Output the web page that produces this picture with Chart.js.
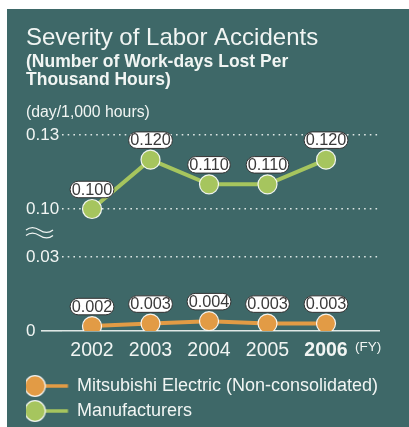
<!DOCTYPE html>
<html>
<head>
<meta charset="utf-8">
<script src="https://cdn.jsdelivr.net/npm/chart.js@4/dist/chart.umd.min.js"></script>
<style>
  html, body { margin: 0; padding: 0; background: #ffffff; }
  #wrap { width: 409px; height: 427px; position: relative; }
</style>
</head>
<body>
<div id="wrap"><canvas id="c" width="409" height="427"></canvas></div>
<script>
// Fiscal years on the x axis
const years = ['2002', '2003', '2004', '2005', '2006'];
// Severity rate (work-days lost per 1,000 hours)
const mitsubishi = [0.002, 0.003, 0.004, 0.003, 0.003];
const manufacturers = [0.100, 0.120, 0.110, 0.110, 0.120];
// Tick values shown on the two halves of the broken y axis
const upperTicks = [0.10, 0.13];
const lowerTicks = [0, 0.03];
const seriesNames = ['Mitsubishi Electric (Non-consolidated)', 'Manufacturers'];

const PANEL = '#3e6868';
const ORANGE = '#e29b45';
const GREEN = '#a6c55e';
const TEXT = '#f1f5f3';
const FONT = '"Liberation Sans", Arial, Helvetica, sans-serif';

Chart.defaults.font.family = FONT;

// legend marker: a dot with a short line running to the right
function legendMarker(color) {
  const cv = document.createElement('canvas');
  cv.width = 54; cv.height = 24;
  const g = cv.getContext('2d');
  g.strokeStyle = color; g.lineWidth = 3.5;
  g.beginPath(); g.moveTo(13, 12); g.lineTo(44.5, 12); g.stroke();
  g.beginPath(); g.arc(11.5, 12, 10.3, 0, Math.PI * 2);
  g.fillStyle = color; g.fill();
  g.strokeStyle = 'rgba(255,255,255,0.9)'; g.lineWidth = 1.2; g.stroke();
  return cv;
}

const panelPlugin = {
  id: 'panel',
  beforeDraw(chart) {
    const ctx = chart.ctx;
    ctx.save();
    ctx.fillStyle = PANEL;
    ctx.fillRect(7, 9, chart.width - 7, chart.height - 9);
    ctx.restore();
  },
  afterDraw(chart) {
    const ctx = chart.ctx;
    ctx.save();
    ctx.fillStyle = TEXT;
    ctx.textBaseline = 'middle';
    // unit caption
    ctx.font = '15.8px ' + FONT;
    ctx.textAlign = 'left';
    ctx.fillText('(day/1,000 hours)', 26, 113);
    // (FY) suffix after the year labels
    ctx.font = '13.5px ' + FONT;
    ctx.fillText('(FY)', 355, 347);
    // axis break mark
    ctx.strokeStyle = TEXT;
    ctx.lineWidth = 1.3;
    [230, 235.5].forEach(y0 => {
      ctx.beginPath();
      ctx.moveTo(26, y0);
      ctx.bezierCurveTo(31, y0 - 4, 35, y0 - 3, 39.5, y0);
      ctx.bezierCurveTo(44, y0 + 3, 48, y0 + 4, 53, y0);
      ctx.stroke();
    });
    ctx.restore();
  }
};

// value tags above each point
const tagPlugin = {
  id: 'tags',
  afterDatasetsDraw(chart) {
    const ctx = chart.ctx;
    ctx.save();
    ctx.font = '16.3px ' + FONT;
    ctx.textAlign = 'center';
    ctx.textBaseline = 'middle';
    chart.data.datasets.forEach((ds, di) => {
      const meta = chart.getDatasetMeta(di);
      meta.data.forEach((pt, i) => {
        const txt = ds.data[i].y.toFixed(3);
        const w = ctx.measureText(txt).width + 3;
        const h = 16.5;
        const cx = pt.x, cy = pt.y - 19.5;
        ctx.beginPath();
        ctx.roundRect(cx - w / 2, cy - h / 2, w, h, 8);
        ctx.fillStyle = '#ffffff';
        ctx.fill();
        ctx.strokeStyle = '#333333';
        ctx.lineWidth = 1;
        ctx.stroke();
        ctx.fillStyle = '#3a3a3a';
        ctx.fillText(txt, cx, cy + 0.8);
      });
    });
    ctx.restore();
  }
};

const dotted = [1.6, 4.1];
function yAxis(min, max, ticksList) {
  return {
    type: 'linear',
    position: 'left',
    stack: 'y',
    stackWeight: 1,
    min: min,
    max: max,
    afterBuildTicks: s => { s.ticks = ticksList.map(v => ({ value: v })); },
    afterFit: s => { s.width = 36; },
    border: {
      display: false,
      dash: ctx => (ctx.tick && ctx.tick.value === 0 ? [] : dotted)
    },
    grid: {
      drawTicks: true,
      tickLength: 21,
      lineWidth: 1.6,
      color: 'rgba(240,245,243,0.9)',
      tickColor: ctx => (ctx.tick && ctx.tick.value === 0 ? 'rgba(240,245,243,0.9)' : 'rgba(0,0,0,0)')
    },
    ticks: {
      color: TEXT,
      font: { size: 17 },
      crossAlign: 'far',
      padding: 0,
      callback: v => (v === 0 ? '0' : v.toFixed(2))
    }
  };
}

new Chart(document.getElementById('c'), {
  type: 'line',
  data: {
    datasets: [
      {
        label: seriesNames[0],
        data: mitsubishi.map((v, i) => ({ x: i, y: v })),
        yAxisID: 'yBot',
        borderColor: ORANGE,
        backgroundColor: ORANGE,
        borderWidth: 4,
        pointRadius: 9.5,
        pointBorderColor: 'rgba(255,255,255,0.9)',
        pointBorderWidth: 1.2,
        tension: 0
      },
      {
        label: seriesNames[1],
        data: manufacturers.map((v, i) => ({ x: i, y: v })),
        yAxisID: 'yTop',
        borderColor: GREEN,
        backgroundColor: GREEN,
        borderWidth: 4,
        pointRadius: 9.5,
        pointBorderColor: 'rgba(255,255,255,0.9)',
        pointBorderWidth: 1.2,
        tension: 0
      }
    ]
  },
  options: {
    responsive: false,
    animation: false,
    devicePixelRatio: 1,
    layout: { padding: { left: 26, right: 29, top: 0, bottom: -3 } },
    plugins: {
      title: {
        display: true,
        text: 'Severity of Labor Accidents',
        align: 'start',
        color: TEXT,
        font: { size: 24, weight: 'normal', lineHeight: 1.2 },
        padding: { top: 24, bottom: 0 }
      },
      subtitle: {
        display: true,
        text: ['(Number of Work-days Lost Per', 'Thousand Hours)'],
        align: 'start',
        color: TEXT,
        font: { size: 17.5, weight: 'bold', lineHeight: '18px' },
        padding: { top: 0, bottom: 46.2 }
      },
      legend: {
        position: 'bottom',
        align: 'start',
        labels: {
          color: TEXT,
          font: { size: 18 },
          usePointStyle: true,
          pointStyleWidth: 35,
          padding: 7,
          generateLabels: chart => chart.data.datasets.map((ds, i) => ({
            text: ds.label,
            pointStyle: legendMarker(ds.borderColor),
            fillStyle: ds.borderColor,
            strokeStyle: ds.borderColor,
            fontColor: TEXT,
            lineWidth: 0,
            hidden: false,
            datasetIndex: i
          }))
        }
      },
      tooltip: { enabled: false }
    },
    scales: {
      x: {
        type: 'linear',
        min: -0.513,
        max: 4.923,
        afterBuildTicks: s => { s.ticks = years.map((_, i) => ({ value: i })); },
        afterFit: s => { s.height = 39; },
        grid: { display: false, drawTicks: false },
        border: { display: false },
        ticks: {
          color: TEXT,
          autoSkip: false,
          maxRotation: 0,
          padding: 8,
          font: ctx => ({ size: 19.5, lineHeight: '24px', weight: ctx.index === 4 ? 'bold' : 'normal' }),
          callback: v => years[v]
        }
      },
      yBot: yAxis(0, 0.03973, lowerTicks),
      yTop: yAxis(0.09027, 0.13, upperTicks)
    }
  },
  plugins: [panelPlugin, tagPlugin]
});
</script>
</body>
</html>
